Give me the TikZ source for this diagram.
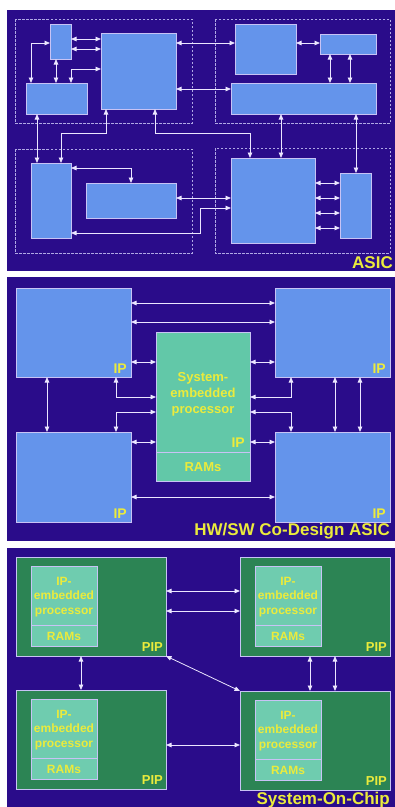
\documentclass[tikz,border=0pt]{standalone}
\usepackage{fontspec}
\setmainfont{Liberation Sans}
\usepackage{tikz}
\usetikzlibrary{arrows.meta}

\definecolor{chipbg}{RGB}{42,12,138}
\definecolor{ipblue}{RGB}{100,148,235}
\definecolor{ipedge}{RGB}{200,195,245}
\definecolor{wirecol}{RGB}{235,230,255}
\definecolor{mintcol}{RGB}{98,200,168}
\definecolor{pipgreen}{RGB}{44,132,84}
\definecolor{chipyellow}{RGB}{235,235,60}

\begin{document}
\begin{tikzpicture}[x=1pt, y=-1pt, >={Triangle[length=5.5pt,width=4.5pt]},
  blk/.style={draw=ipedge, fill=ipblue, line width=0.8pt, inner sep=0pt, outer sep=0pt, anchor=north west},
  proc/.style={blk, fill=mintcol},
  pip/.style={blk, fill=pipgreen},
  core/.style={blk, fill=mintcol!92!white},
  zone/.style={draw=ipedge!85!chipbg, line width=0.9pt, dash pattern=on 2.5pt off 1.5pt},
  link/.style={<->, draw=wirecol, line width=0.8pt},
  tag/.style={text=chipyellow, font=\fontsize{14}{14}\bfseries\selectfont, inner sep=0pt},
  title/.style={text=chipyellow, font=\fontsize{17}{17}\bfseries\selectfont, inner sep=0pt}]

\useasboundingbox (0,0) rectangle (395,807);
\fill[white] (0,0) rectangle (395,807);
\fill[chipbg] (7,10) rectangle (395,271);
\fill[chipbg] (7,277) rectangle (395,541);
\fill[chipbg] (7,548) rectangle (395,807);

%-- ASIC
\draw[zone] (15,19) rectangle (192,123);
\draw[zone] (215,19) rectangle (390,123);
\draw[zone] (15,149) rectangle (192,253);
\draw[zone] (215,148) rectangle (390,253);

\node[blk, minimum width=21, minimum height=35] (A) at (50,24) {};
\node[blk, minimum width=61, minimum height=31] (B) at (26,83) {};
\node[blk, minimum width=75, minimum height=76] (C) at (101,33) {};
\node[blk, minimum width=61, minimum height=50] (D) at (235,24) {};
\node[blk, minimum width=56, minimum height=20] (E) at (320,34) {};
\node[blk, minimum width=145, minimum height=31] (F) at (231,83) {};
\node[blk, minimum width=40, minimum height=75] (G) at (31,163) {};
\node[blk, minimum width=90, minimum height=35] (H) at (86,183) {};
\node[blk, minimum width=84, minimum height=85] (I) at (231,158) {};
\node[blk, minimum width=31, minimum height=65] (J) at (340,173) {};

\foreach \y in {39,49}
  \draw[link] (A.east|-0,\y) -- (C.west|-0,\y);
\draw[link] (A.west|-0,43) -| (31,0|-B.north);
\draw[link] (56,0|-A.south) -- (56,0|-B.north);
\draw[link] (71,0|-B.north) |- (C.west|-0,69);
\draw[link] (C.east|-0,43) -- (D.west|-0,43);
\draw[link] (C.east|-0,89) -- (F.west|-0,89);
\draw[link] (D.east|-0,43) -- (E.west|-0,43);
\foreach \x in {330,350}
  \draw[link] (\x,0|-E.south) -- (\x,0|-F.north);
\draw[link] (37,0|-B.south) -- (37,0|-G.north);
\draw[link] (106,0|-C.south) -- (106,133) -| (61,0|-G.north);
\draw[link] (155,0|-C.south) -- (155,133) -| (250,0|-I.north);
\draw[link] (281,0|-F.south) -- (281,0|-I.north);
\draw[link] (356,0|-F.south) -- (356,0|-J.north);
\draw[link] (131,0|-H.north) |- (G.east|-0,168);
\draw[link] (H.east|-0,198) -- (I.west|-0,198);
\draw[link] (G.east|-0,233) -| (200,208) -- (I.west|-0,208);
\foreach \y in {183,198,213,228}
  \draw[link] (I.east|-0,\y) -- (J.west|-0,\y);

\node[title, anchor=base east] at (393,268) {ASIC};

%-- HW/SW co-design
\node[blk, minimum width=115, minimum height=89] (IP1) at (16,288) {};
\node[blk, minimum width=115, minimum height=89] (IP2) at (275,288) {};
\node[blk, minimum width=115, minimum height=90] (IP3) at (16,432) {};
\node[blk, minimum width=115, minimum height=90] (IP4) at (275,432) {};
\node[proc, minimum width=94, minimum height=149] (P) at (156,332) {};
\draw[ipedge, line width=0.8pt] (P.west|-0,452) -- (P.east|-0,452);

\foreach \b in {IP1,IP2,IP3,IP4}
  \node[tag, anchor=south east] at ([shift={(-4,-3)}]\b.south east) {IP};
\node[tag, anchor=south east] at (245,448) {IP};
\node[tag, font=\fontsize{13}{16}\bfseries\selectfont, align=center] (Ptxt) at (203,394)
  {System-\\embedded\\processor};
\node[tag, font=\fontsize{13}{13}\bfseries\selectfont] (Pram) at (203,467) {RAMs};

\foreach \y in {303,322}
  \draw[link] (IP1.east|-0,\y) -- (IP2.west|-0,\y);
\draw[link] (IP1.east|-0,362) -- (P.west|-0,362);
\draw[link] (47,0|-IP1.south) -- (47,0|-IP3.north);
\draw[link] (116,0|-IP1.south) |- (P.west|-0,397);
\draw[link] (P.west|-0,412) -| (116,0|-IP3.north);
\draw[link] (IP3.east|-0,442) -- (P.west|-0,442);
\draw[link] (IP3.east|-0,497) -- (IP4.west|-0,497);
\draw[link] (P.east|-0,362) -- (IP2.west|-0,362);
\draw[link] (291,0|-IP2.south) |- (P.east|-0,397);
\draw[link] (P.east|-0,412) -| (291,0|-IP4.north);
\draw[link] (P.east|-0,442) -- (IP4.west|-0,442);
\foreach \x in {335,360}
  \draw[link] (\x,0|-IP2.south) -- (\x,0|-IP4.north);

\node[title, anchor=base east] at (390,535) {HW/SW Co-Design ASIC};

%-- system on chip
\foreach \n/\x/\y in {1/16/557, 2/240/557, 3/16/690, 4/240/691}{
  \node[pip, minimum width=150, minimum height=99] (Q\n) at (\x,\y) {};
  \node[core, minimum width=66, minimum height=80] (K\n) at (\x+15,\y+9) {};
  \draw[ipedge, line width=0.8pt] ([shift={(0,59)}]K\n.north west) -- ([shift={(0,59)}]K\n.north east);
  \node[tag, font=\fontsize{12}{14.5}\bfseries\selectfont, align=center] at ([shift={(0,31)}]K\n.north)
    {IP-\\embedded\\processor};
  \node[tag, font=\fontsize{12}{12}\bfseries\selectfont] at ([shift={(0,70)}]K\n.north) {RAMs};
  \node[tag, font=\fontsize{13}{13}\bfseries\selectfont, anchor=south east]
    at ([shift={(-3,-4)}]Q\n.south east) {PIP};
}

\foreach \y in {591,611}
  \draw[link] (Q1.east|-0,\y) -- (Q2.west|-0,\y);
\draw[link] (81,0|-Q1.south) -- (81,0|-Q3.north);
\foreach \x in {310,335}
  \draw[link] (\x,0|-Q2.south) -- (\x,0|-Q4.north);
\draw[link] (Q1.south east) -- (Q4.north west);
\draw[link] (Q3.east|-0,745) -- (Q4.west|-0,745);

\node[title, anchor=base east] at (390,804) {System-On-Chip};

\end{tikzpicture}
\end{document}
